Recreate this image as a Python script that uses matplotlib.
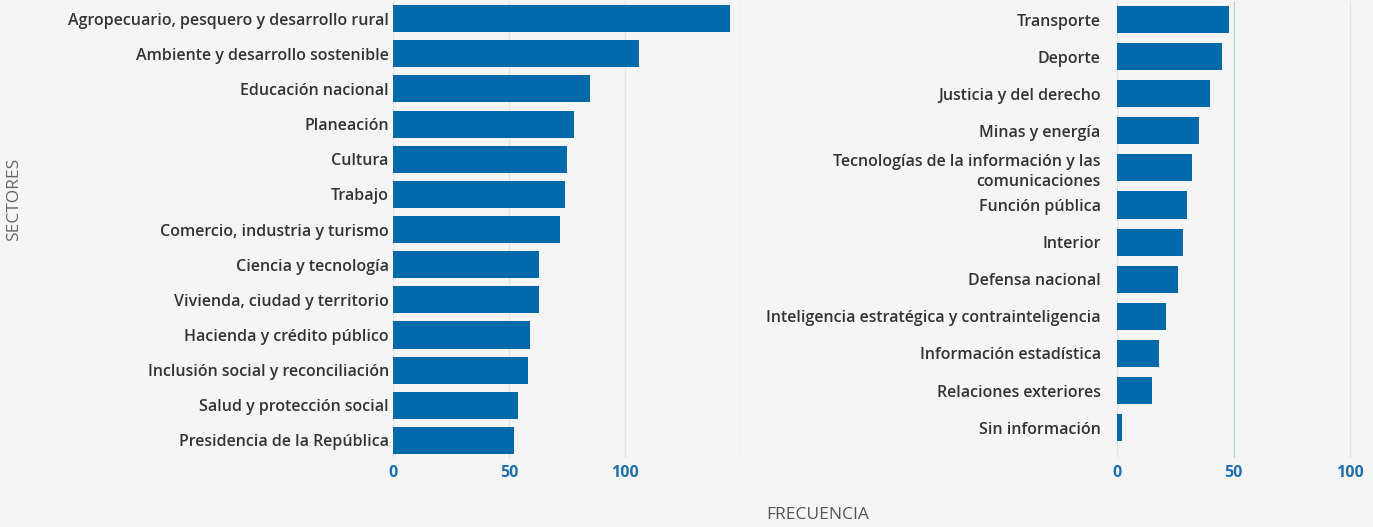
#%% Imports
import matplotlib
matplotlib.use('Agg')
import matplotlib.pyplot as plt

#%% Data
left_sectors = ['Agropecuario, pesquero y desarrollo rural', 'Ambiente y desarrollo sostenible',
                'Educación nacional', 'Planeación', 'Cultura', 'Trabajo',
                'Comercio, industria y turismo', 'Ciencia y tecnología',
                'Vivienda, ciudad y territorio', 'Hacienda y crédito público',
                'Inclusión social y reconciliación', 'Salud y protección social',
                'Presidencia de la República']
left_freq = [145, 106, 85, 78, 75, 74, 72, 63, 63, 59, 58, 54, 52]

right_sectors = ['Transporte', 'Deporte', 'Justicia y del derecho', 'Minas y energía',
                 'Tecnologías de la información y las\ncomunicaciones', 'Función pública',
                 'Interior', 'Defensa nacional',
                 'Inteligencia estratégica y contrainteligencia', 'Información estadística',
                 'Relaciones exteriores', 'Sin información']
right_freq = [48, 45, 40, 35, 32, 30, 28, 26, 21, 18, 15, 2]

#%% Style
BG = '#f5f5f5'
BAR = '#0069aa'
TICK_BLUE = '#1f6fae'
LABEL = '#333333'
FONT = 'Open Sans'

plt.rcParams['font.family'] = [FONT, 'DejaVu Sans']

fig = plt.figure(figsize=(13.73, 5.27), dpi=100, facecolor=BG)


def draw_panel(ax, names, values, xmax, ticks, ticklabels, ylim, bar_h, ypad):
    ax.set_facecolor(BG)
    pos = list(range(len(names)))
    ax.barh(pos, values, height=bar_h, color=BAR, zorder=3)
    ax.set_yticks(pos)
    ax.set_yticklabels(names, fontsize=11.5, fontweight='semibold', color=LABEL,
                       linespacing=1.3)
    ax.set_xlim(0, xmax)
    ax.set_ylim(*ylim)
    ax.set_xticks(ticks)
    ax.set_xticklabels(ticklabels, fontsize=11.5, fontweight='bold', color=TICK_BLUE)
    ax.tick_params(axis='both', length=0)
    ax.tick_params(axis='y', pad=ypad)
    ax.tick_params(axis='x', pad=5)
    for s in ax.spines.values():
        s.set_visible(False)
    ax.grid(axis='x', color='#e1e5ea', linewidth=1, zorder=0)


ax_left = fig.add_axes([0.2862, 0.1309, 0.2537, 0.8672])
draw_panel(ax_left, left_sectors, left_freq, 150, [0, 50, 100, 150], ['0', '50', '100', ''],
           (12.5, -0.5), 0.77, 3)

ax_right = fig.add_axes([0.8138, 0.1309, 0.1865, 0.8672])
draw_panel(ax_right, right_sectors, right_freq, 110, [0, 50, 100], ['0', '50', '100'],
           (11.82, -0.5), 0.73, 12)
ax_right.get_xgridlines()[1].set_color('#b8d3e6')

fig.text(0.0105, 0.622, 'SECTORES', rotation=90, ha='center', va='center',
         fontsize=12.5, color='#666666')
fig.text(0.5955, 0.022, 'FRECUENCIA', ha='center', va='center',
         fontsize=12.5, color='#555555')

fig.savefig('out.png', dpi=100, facecolor=BG)
